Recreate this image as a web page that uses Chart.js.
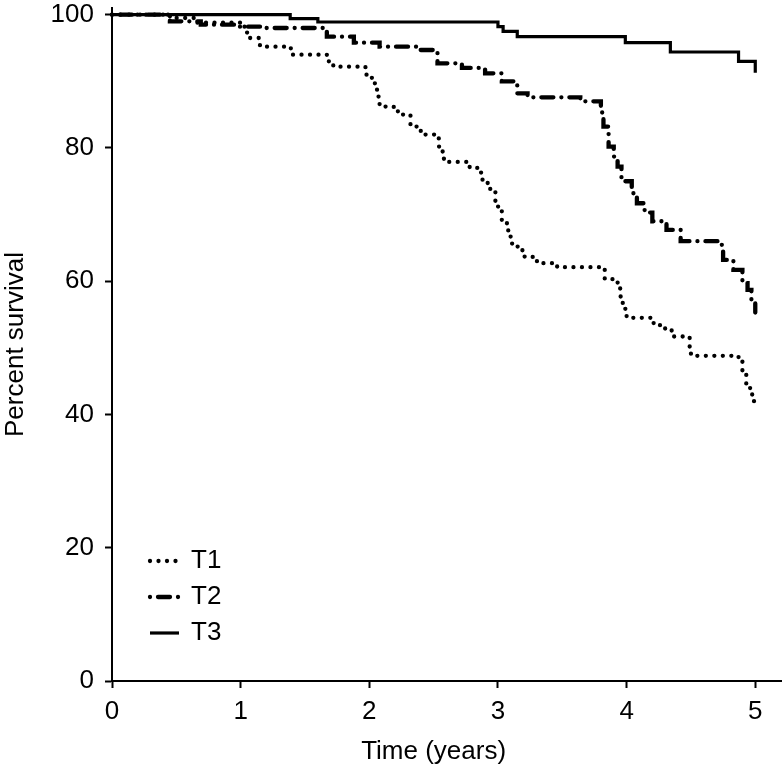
<!DOCTYPE html>
<html><head><meta charset="utf-8">
<script src="https://cdn.jsdelivr.net/npm/chart.js@4/dist/chart.umd.min.js"></script>
<style>html,body{margin:0;padding:0;background:#fff}canvas{display:block}</style>
</head><body>
<canvas id="c" width="783" height="773"></canvas>
<script>
const xTicks = [0, 1, 2, 3, 4, 5];
const yTicks = [0, 20, 40, 60, 80, 100];
const seriesNames = ['T1', 'T2', 'T3'];
const xTitle = 'Time (years)';
const yTitle = 'Percent survival';

const t1Times = [0, 0.45, 0.66, 1.0, 1.05, 1.15, 1.39, 1.67, 1.72, 1.97, 2.02, 2.06, 2.08, 2.19, 2.25, 2.32, 2.40, 2.54, 2.57, 2.58, 2.78, 2.84, 2.88, 2.92, 2.94, 2.98, 3.03, 3.08, 3.11, 3.19, 3.27, 3.35, 3.46, 3.79, 3.83, 3.93, 3.95, 3.97, 3.99, 4.00, 4.21, 4.28, 4.35, 4.49, 4.50, 4.87, 4.90, 4.93, 4.96, 4.98, 5.0];
const t1Survival = [100, 99.5, 98.8, 98.2, 96.5, 95.2, 94.0, 93.0, 92.2, 91.0, 89.7, 87.7, 86.2, 85.5, 85.0, 83.2, 82.0, 80.2, 79.2, 77.9, 77.0, 76.3, 75.2, 74.3, 73.4, 71.2, 68.7, 66.7, 65.2, 63.7, 63.0, 62.7, 62.1, 61.7, 60.3, 59.0, 57.7, 56.5, 55.5, 54.5, 53.4, 52.9, 51.7, 50.2, 48.8, 48.2, 46.2, 44.5, 43.0, 42.0, 41.5];

const t2Times = [0, 0.45, 0.69, 0.95, 1.2, 1.67, 1.88, 2.08, 2.37, 2.53, 2.72, 2.90, 3.03, 3.15, 3.23, 3.64, 3.80, 3.81, 3.82, 3.86, 3.90, 3.93, 3.96, 4.04, 4.08, 4.14, 4.20, 4.31, 4.42, 4.74, 4.75, 4.83, 4.90, 4.94, 4.97, 5.0];
const t2Survival = [100, 99.0, 98.5, 98.2, 98.0, 96.7, 95.8, 95.2, 94.7, 92.7, 92.0, 91.2, 90.0, 88.2, 87.6, 87.0, 86.2, 84.7, 83.2, 80.2, 78.7, 77.2, 75.0, 73.2, 71.7, 70.3, 69.0, 67.7, 66.0, 65.2, 63.2, 61.7, 59.7, 58.7, 56.8, 55.3];

const t3Times = [0, 1.385, 1.60, 3.00, 3.04, 3.15, 3.99, 4.34, 4.87, 5.0];
const t3Survival = [100, 99.4, 98.9, 98.2, 97.5, 96.7, 95.8, 94.4, 93.0, 91.3];

const FONT = "'Liberation Sans', Arial, Helvetica, sans-serif";
const FS = 26;

function pts(ts, vs) { return ts.map((t, i) => ({ x: t, y: vs[i] })); }

const legendPlugin = {
  id: 'innerLegend',
  afterDraw(chart) {
    const ctx = chart.ctx;
    const ca = chart.chartArea;
    const xs = chart.scales.x;
    ctx.save();
    ctx.fillStyle = '#000';
    ctx.font = FS + 'px ' + FONT;
    ctx.textAlign = 'center';
    ctx.textBaseline = 'middle';
    ctx.fillText(xTitle, (xs.getPixelForValue(xTicks[0]) + xs.getPixelForValue(xTicks[xTicks.length - 1])) / 2, 752);
    ctx.restore();

    const rowsY = [ca.bottom - 120, ca.bottom - 84, ca.bottom - 48];
    const x0 = ca.left + 38, x1 = ca.left + 67, tx = ca.left + 79;
    chart.data.datasets.forEach((ds, i) => {
      const y = rowsY[i];
      ctx.save();
      ctx.strokeStyle = ds.borderColor;
      ctx.lineWidth = ds.borderWidth;
      ctx.lineCap = ds.borderCapStyle || 'butt';
      ctx.setLineDash(ds.borderDash || []);
      ctx.beginPath();
      ctx.moveTo(x0, y);
      ctx.lineTo(x1, y);
      ctx.stroke();
      ctx.setLineDash([]);
      ctx.fillStyle = '#000';
      ctx.font = FS + 'px ' + FONT;
      ctx.textBaseline = 'middle';
      ctx.textAlign = 'left';
      ctx.fillText(ds.label, tx, y);
      ctx.restore();
    });
  }
};

new Chart(document.getElementById('c'), {
  type: 'line',
  data: {
    datasets: [
      { label: seriesNames[0], data: pts(t1Times, t1Survival), borderColor: '#000', borderWidth: 4.3, borderDash: [0, 8.5], borderCapStyle: 'round', stepped: true, pointRadius: 0, fill: false, clip: false },
      { label: seriesNames[1], data: pts(t2Times, t2Survival), borderColor: '#000', borderWidth: 4.3, borderDash: [0, 8, 12, 8], borderCapStyle: 'round', stepped: true, pointRadius: 0, fill: false, clip: false },
      { label: seriesNames[2], data: pts(t3Times, t3Survival), borderColor: '#000', borderWidth: 3.2, borderCapStyle: 'butt', stepped: true, pointRadius: 0, fill: false, clip: false }
    ]
  },
  options: {
    responsive: false,
    animation: false,
    devicePixelRatio: 1,
    layout: { padding: { left: 0, right: 2, top: 8, bottom: 0 } },
    plugins: { legend: { display: false }, tooltip: { enabled: false } },
    scales: {
      x: {
        type: 'linear', min: 0, max: 5.2,
        afterBuildTicks: s => { s.ticks = xTicks.map(v => ({ value: v })); },
        afterFit: s => { s.height = 92; s.paddingLeft = 0; s.paddingRight = 0; },
        grid: { display: true, drawOnChartArea: false, drawTicks: true, tickLength: 7, tickWidth: 2, tickColor: '#000' },
        border: { display: true, color: '#000', width: 2 },
        ticks: { color: '#000', font: { family: FONT, size: FS }, padding: 8, maxRotation: 0 },
        title: { display: false }
      },
      y: {
        type: 'linear', min: 0, max: 101,
        afterBuildTicks: s => { s.ticks = yTicks.map(v => ({ value: v })); },
        afterFit: s => { s.width = 112; s.paddingTop = 0; s.paddingBottom = 0; },
        grid: { display: true, drawOnChartArea: false, drawTicks: true, tickLength: 7, tickWidth: 2, tickColor: '#000' },
        border: { display: true, color: '#000', width: 2 },
        ticks: { color: '#000', font: { family: FONT, size: FS }, padding: 11 },
        title: { display: true, text: yTitle, color: '#000', font: { family: FONT, size: FS }, padding: { top: 0, bottom: 0 } }
      }
    }
  },
  plugins: [legendPlugin]
});
</script>
</body></html>
